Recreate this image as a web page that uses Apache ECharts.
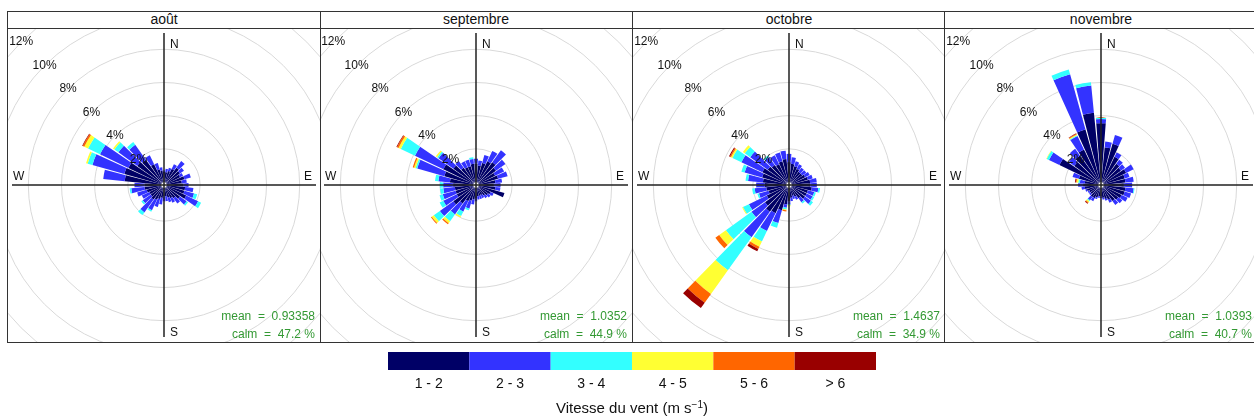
<!DOCTYPE html>
<html lang="fr">
<head>
<meta charset="utf-8">
<title>Rose des vents par mois</title>
<script src="https://cdn.jsdelivr.net/npm/echarts@6.0.0/dist/echarts.min.js"></script>
<style>
  body { margin: 0; width: 1254px; height: 419px; background: #fff; position: relative; overflow: hidden;
         font-family: "Liberation Sans", Arial, sans-serif; color: #111; }
  #cadre { position: absolute; left: 7px; top: 11px; width: 1300px; height: 330px; border: 1px solid #333; z-index: 3; }
  .ligne-h { position: absolute; left: 7px; width: 1300px; height: 1px; background: #333; z-index: 3; }
  .sep { position: absolute; top: 11px; width: 1px; height: 332px; background: #333; z-index: 3; }
  .bandeau { position: absolute; top: 11px; height: 17px; line-height: 17px; width: 312px; text-align: center; font-size: 14px; }
  .rose { position: absolute; top: 28px; width: 312px; height: 314px; z-index: 1; }
  #legende { position: absolute; left: 380px; top: 345px; width: 510px; height: 74px; }
</style>
</head>
<body>
<div id="cadre"></div>
<div class="ligne-h" style="top:28px"></div>
<div id="panneaux"></div>
<div id="legende"></div>

<script>
// === Données ===
const directions = ['0', '10', '20', '30', '40', '50', '60', '70', '80', '90',
  '100', '110', '120', '130', '140', '150', '160', '170', '180', '190',
  '200', '210', '220', '230', '240', '250', '260', '270', '280', '290',
  '300', '310', '320', '330', '340', '350'];
const classesVitesse = ['1 - 2', '2 - 3', '3 - 4', '4 - 5', '5 - 6', '> 6'];
const mois = ['août', 'septembre', 'octobre', 'novembre'];
const moyennes = ['0.93358', '1.0352', '1.4637', '1.0393'];
const calmes = ['47.2', '44.9', '34.9', '40.7'];
const anneauxMax = 12;
const anneauxPas = 2;
const legendeValeurs = [1, 1, 1, 1, 1, 1];

// fréquences (%) par direction, une liste par classe de vitesse
const aout_1_2 = [0.6, 0.6, 0.7, 0.9, 1.1, 1.0, 0.9, 1.1, 0.9, 1.0, 1.1, 1.1, 1.3, 1.0, 0.8, 0.7, 0.6, 0.5, 0.5, 0.6,
  0.7, 0.8, 0.9, 0.8, 0.8, 0.9, 1.0, 1.0, 2.2, 2.3, 2.2, 1.8, 1.7, 1.2, 0.8, 0.7];
const aout_2_3 = [0.1, 0.2, 0.2, 0.3, 0.5, 0.3, 0.2, 0.4, 0.3, 0.3, 0.5, 0.6, 0.8, 0.5, 0.4, 0.3, 0.3, 0.3, 0.3, 0.4,
  0.5, 0.7, 0.95, 0.6, 0.5, 0.6, 0.8, 0.6, 1.3, 2.0, 1.9, 1.4, 1.1, 0.6, 0.4, 0.2];
const aout_3_4 = [0, 0, 0, 0, 0, 0, 0, 0, 0, 0, 0, 0.2, 0.2, 0.1, 0, 0, 0, 0, 0, 0,
  0, 0.1, 0.2, 0.1, 0, 0, 0.1, 0, 0, 0.3, 0.8, 0.3, 0.2, 0, 0, 0];
const aout_4_5 = [0, 0, 0, 0, 0, 0, 0, 0, 0, 0, 0, 0, 0, 0, 0, 0, 0, 0, 0, 0,
  0, 0, 0, 0, 0, 0, 0, 0, 0, 0.1, 0.25, 0.1, 0, 0, 0, 0];
const aout_5_6 = [0, 0, 0, 0, 0, 0, 0, 0, 0, 0, 0, 0, 0, 0, 0, 0, 0, 0, 0, 0,
  0, 0, 0, 0, 0, 0, 0, 0, 0, 0, 0.1, 0, 0, 0, 0, 0];
const aout_sup6 = [0, 0, 0, 0, 0, 0, 0, 0, 0, 0, 0, 0, 0, 0, 0, 0, 0, 0, 0, 0,
  0, 0, 0, 0, 0, 0, 0, 0, 0, 0, 0.04, 0, 0, 0, 0, 0];

const sept_1_2 = [1.1, 1.0, 1.2, 1.4, 1.5, 1.3, 1.1, 1.2, 1.0, 0.9, 1.0, 1.6, 0.8, 0.7, 0.6, 0.5, 0.5, 0.5, 0.6, 0.7,
  0.8, 0.9, 1.2, 1.5, 1.1, 1.1, 1.1, 1.2, 1.4, 1.8, 2.0, 1.5, 1.1, 1.0, 1.0, 1.1];
const sept_2_3 = [0.3, 0.3, 0.5, 0.7, 0.9, 0.7, 0.6, 0.6, 0.4, 0.4, 0.3, 0, 0.2, 0.2, 0.2, 0.2, 0.2, 0.2, 0.2, 0.3,
  0.5, 0.7, 0.8, 1.0, 0.9, 0.8, 0.7, 0.6, 0.7, 1.7, 1.9, 1.1, 0.5, 0.4, 0.4, 0.3];
const sept_3_4 = [0, 0, 0, 0, 0, 0, 0, 0, 0, 0, 0, 0, 0, 0, 0, 0, 0, 0, 0, 0,
  0.1, 0.3, 0.5, 0.45, 0.25, 0.2, 0.2, 0.2, 0.2, 0.1, 0.95, 0.1, 0, 0, 0, 0.1];
const sept_4_5 = [0, 0, 0, 0, 0, 0, 0, 0, 0, 0, 0, 0, 0, 0, 0, 0, 0, 0, 0, 0,
  0, 0.1, 0.15, 0.15, 0, 0, 0, 0, 0, 0.1, 0.15, 0.1, 0, 0, 0, 0];
const sept_5_6 = [0, 0, 0, 0, 0, 0, 0, 0, 0, 0, 0, 0, 0, 0, 0, 0, 0, 0, 0, 0,
  0, 0, 0.08, 0.06, 0, 0, 0, 0, 0, 0.08, 0.1, 0, 0, 0, 0, 0];
const sept_sup6 = [0, 0, 0, 0, 0, 0, 0, 0, 0, 0, 0, 0, 0, 0, 0, 0, 0, 0, 0, 0,
  0, 0, 0, 0, 0, 0, 0, 0, 0, 0, 0.04, 0, 0, 0, 0, 0];

const oct_1_2 = [1.2, 1.1, 1.0, 0.9, 0.8, 0.8, 0.9, 1.0, 1.1, 1.1, 1.2, 1.0, 1.0, 1.0, 0.8, 0.6, 0.5, 0.6, 0.8, 1.0,
  1.4, 1.7, 1.8, 1.6, 1.3, 1.1, 1.2, 1.3, 1.4, 1.5, 1.6, 1.4, 1.3, 1.2, 1.3, 1.4];
const oct_2_3 = [0.5, 0.4, 0.3, 0.3, 0.3, 0.3, 0.3, 0.3, 0.4, 0.4, 0.4, 0.4, 0.4, 0.45, 0.3, 0.2, 0.2, 0.2, 0.2, 0.2,
  0.8, 1.2, 1.9, 1.0, 1.2, 0.6, 0.7, 0.5, 0.9, 1.1, 1.4, 1.3, 0.6, 0.6, 0.55, 0.5];
const oct_3_4 = [0, 0, 0, 0, 0, 0, 0, 0, 0, 0, 0.1, 0.1, 0.1, 0.15, 0.1, 0, 0, 0, 0.05, 0.1,
  0.3, 0.7, 2.45, 1.9, 0.4, 0.1, 0.15, 0, 0.15, 0.2, 0.6, 0.4, 0.1, 0, 0, 0];
const oct_4_5 = [0, 0, 0, 0, 0, 0, 0, 0, 0, 0, 0, 0, 0, 0, 0, 0, 0, 0, 0.05, 0.05,
  0, 0.35, 1.75, 0.5, 0.05, 0, 0, 0, 0, 0, 0.1, 0.14, 0, 0, 0, 0];
const oct_5_6 = [0, 0, 0, 0, 0, 0, 0, 0, 0, 0, 0, 0, 0, 0, 0, 0, 0, 0, 0, 0.08,
  0, 0.15, 0.65, 0.28, 0, 0, 0, 0, 0, 0, 0.07, 0, 0, 0, 0, 0];
const oct_sup6 = [0, 0, 0, 0, 0, 0, 0, 0, 0, 0, 0, 0, 0, 0, 0, 0, 0, 0, 0, 0,
  0, 0.15, 0.4, 0, 0, 0, 0, 0, 0, 0, 0.06, 0, 0, 0, 0, 0];

const nov_1_2 = [3.55, 2.1, 2.4, 1.7, 1.4, 1.3, 1.5, 1.3, 1.3, 1.2, 1.3, 1.3, 1.2, 1.1, 1.0, 0.8, 0.7, 0.6, 0.5, 0.5,
  0.6, 0.7, 0.7, 0.6, 0.6, 0.7, 0.8, 0.9, 0.8, 1.2, 2.6, 1.8, 2.0, 2.2, 3.3, 4.2];
const nov_2_3 = [0.25, 0.35, 0.55, 0.3, 0.3, 0.3, 0.5, 0.3, 0.5, 0.5, 0.5, 0.4, 0.4, 0.3, 0.3, 0.2, 0.1, 0.1, 0.1, 0.1,
  0.1, 0.2, 0.25, 0.1, 0.1, 0.1, 0.2, 0.3, 0.3, 0.4, 0.7, 0.4, 0.5, 0.9, 3.45, 1.65];
const nov_3_4 = [0.07, 0, 0, 0, 0, 0, 0, 0, 0, 0, 0.05, 0, 0, 0, 0, 0, 0, 0, 0, 0,
  0, 0, 0.08, 0, 0, 0, 0, 0, 0.1, 0, 0.15, 0, 0, 0.05, 0.3, 0.19];
const nov_4_5 = [0, 0, 0, 0, 0, 0, 0, 0, 0, 0, 0, 0, 0, 0, 0, 0, 0, 0, 0, 0,
  0, 0, 0.08, 0, 0, 0, 0, 0, 0.1, 0, 0.03, 0, 0, 0.05, 0, 0];
const nov_5_6 = [0, 0, 0, 0, 0, 0, 0, 0, 0, 0, 0, 0, 0, 0, 0, 0, 0, 0, 0, 0,
  0, 0, 0.05, 0, 0, 0, 0, 0, 0.05, 0, 0, 0, 0, 0.05, 0, 0];
const nov_sup6 = [0, 0, 0, 0, 0, 0, 0, 0, 0, 0, 0, 0, 0, 0, 0, 0, 0, 0, 0, 0,
  0, 0, 0.05, 0, 0, 0, 0, 0, 0.05, 0, 0, 0, 0, 0.03, 0, 0];

const donneesMois = [
  [aout_1_2, aout_2_3, aout_3_4, aout_4_5, aout_5_6, aout_sup6],
  [sept_1_2, sept_2_3, sept_3_4, sept_4_5, sept_5_6, sept_sup6],
  [oct_1_2, oct_2_3, oct_3_4, oct_4_5, oct_5_6, oct_sup6],
  [nov_1_2, nov_2_3, nov_3_4, nov_4_5, nov_5_6, nov_sup6]
];

// === Styles ===
const couleurs = ['#000066', '#3333ff', '#33ffff', '#ffff33', '#ff6600', '#990000'];
const police = '"Liberation Sans", Arial, sans-serif';
const vert = '#339933';
const panneauxGauche = [8, 320, 633, 945];
const separateurs = [320, 632, 944];
const rayon = [3, 202];

// === Mise en page des panneaux ===
function creerPanneaux() {
  const conteneur = document.getElementById('panneaux');
  separateurs.forEach(x => {
    const s = document.createElement('div');
    s.className = 'sep';
    s.style.left = x + 'px';
    conteneur.appendChild(s);
  });
  mois.forEach((m, i) => {
    const b = document.createElement('div');
    b.className = 'bandeau';
    b.style.left = panneauxGauche[i] + 'px';
    b.textContent = m;
    conteneur.appendChild(b);

    const r = document.createElement('div');
    r.className = 'rose';
    r.id = `rose-${i}`;
    r.style.left = panneauxGauche[i] + 'px';
    conteneur.appendChild(r);
  });
}

const axeCache = {
  axisLine: { show: false }, axisTick: { show: false },
  axisLabel: { show: false }, splitLine: { show: false }
};

function texte(x, y, t, align, couleur) {
  return {
    type: 'text', x, y, z: 10,
    style: { text: t, fontSize: 12, fontFamily: police, fill: couleur || '#111', align, verticalAlign: 'middle' }
  };
}

// === Roses des vents ===
function initRose(i) {
  const chart = echarts.init(document.getElementById(`rose-${i}`));
  const series = classesVitesse.map((nom, k) => ({
    name: nom,
    type: 'bar',
    coordinateSystem: 'polar',
    polarIndex: 1,
    stack: 'vitesse',
    data: donneesMois[i][k],
    barCategoryGap: '12%',
    itemStyle: { color: couleurs[k] },
    silent: true,
    z: 2
  }));

  chart.setOption({
    animation: false,
    textStyle: { fontFamily: police },
    polar: [
      { center: ['50%', '50%'], radius: rayon },     // anneaux
      { center: ['50%', '50%'], radius: rayon },     // barres
      { center: ['50%', '50%'], radius: [0, 152] },  // croix N-S / E-W
      { center: ['50%', '50%'], radius: rayon }      // étiquettes %
    ],
    angleAxis: [
      { polarIndex: 0, type: 'value', min: 0, max: 360, startAngle: 135, ...axeCache },
      { polarIndex: 1, type: 'category', data: directions, startAngle: 95, clockwise: true, ...axeCache },
      {
        polarIndex: 2, type: 'value', min: 0, max: 360, interval: 90, startAngle: 90, z: 3,
        axisLine: { show: false }, axisTick: { show: false }, axisLabel: { show: false },
        splitLine: { show: true, lineStyle: { color: '#222', width: 1.5 } }
      },
      { polarIndex: 3, type: 'value', min: 0, max: 360, startAngle: 135, ...axeCache }
    ],
    radiusAxis: [
      {
        polarIndex: 0, type: 'value', min: 0, max: anneauxMax, interval: anneauxPas,
        axisLine: { show: false }, axisTick: { show: false }, axisLabel: { show: false },
        splitLine: { show: true, lineStyle: { color: '#d9d9d9', width: 1 } }
      },
      { polarIndex: 1, type: 'value', min: 0, max: anneauxMax, ...axeCache },
      { polarIndex: 2, type: 'value', min: 0, max: 1, ...axeCache },
      {
        polarIndex: 3, type: 'value', min: 0, max: anneauxMax, interval: anneauxPas, z: 4,
        axisLine: { show: false }, axisTick: { show: false }, splitLine: { show: false },
        axisLabel: {
          show: true, showMinLabel: false, margin: 0, align: 'center', verticalAlign: 'middle',
          fontSize: 12, color: '#111', formatter: v => v + '%'
        }
      }
    ],
    graphic: [
      texte(162, 16.5, 'N', 'left'),
      texte(162, 305, 'S', 'left'),
      texte(304, 149, 'E', 'right'),
      texte(5, 149, 'W', 'left'),
      texte(307, 289, `mean  =  ${moyennes[i]}`, 'right', vert),
      texte(307, 307, `calm  =  ${calmes[i]} %`, 'right', vert)
    ],
    series
  });
}

// === Légende des vitesses ===
function initLegende() {
  const chart = echarts.init(document.getElementById('legende'));
  chart.setOption({
    animation: false,
    textStyle: { fontFamily: police },
    grid: { left: 8, top: 7, width: 488, height: 20 },
    xAxis: {
      type: 'category', data: classesVitesse,
      axisLine: { show: false }, axisTick: { show: false },
      axisLabel: { margin: 7, fontSize: 14, color: '#111' },
      name: 'Vitesse du vent (m s{sup|−1})', nameLocation: 'middle', nameGap: 30,
      nameTextStyle: {
        fontSize: 15, color: '#111', lineHeight: 18,
        rich: { sup: { fontSize: 10, lineHeight: 10, verticalAlign: 'top', color: '#111' } }
      }
    },
    yAxis: { type: 'value', min: 0, max: 1, show: false },
    series: [{
      type: 'bar',
      data: legendeValeurs.map((v, k) => ({ value: v, itemStyle: { color: couleurs[k] } })),
      barCategoryGap: '0%',
      silent: true
    }]
  });
}

document.addEventListener('DOMContentLoaded', () => {
  creerPanneaux();
  mois.forEach((m, i) => initRose(i));
  initLegende();
});
</script>
</body>
</html>
